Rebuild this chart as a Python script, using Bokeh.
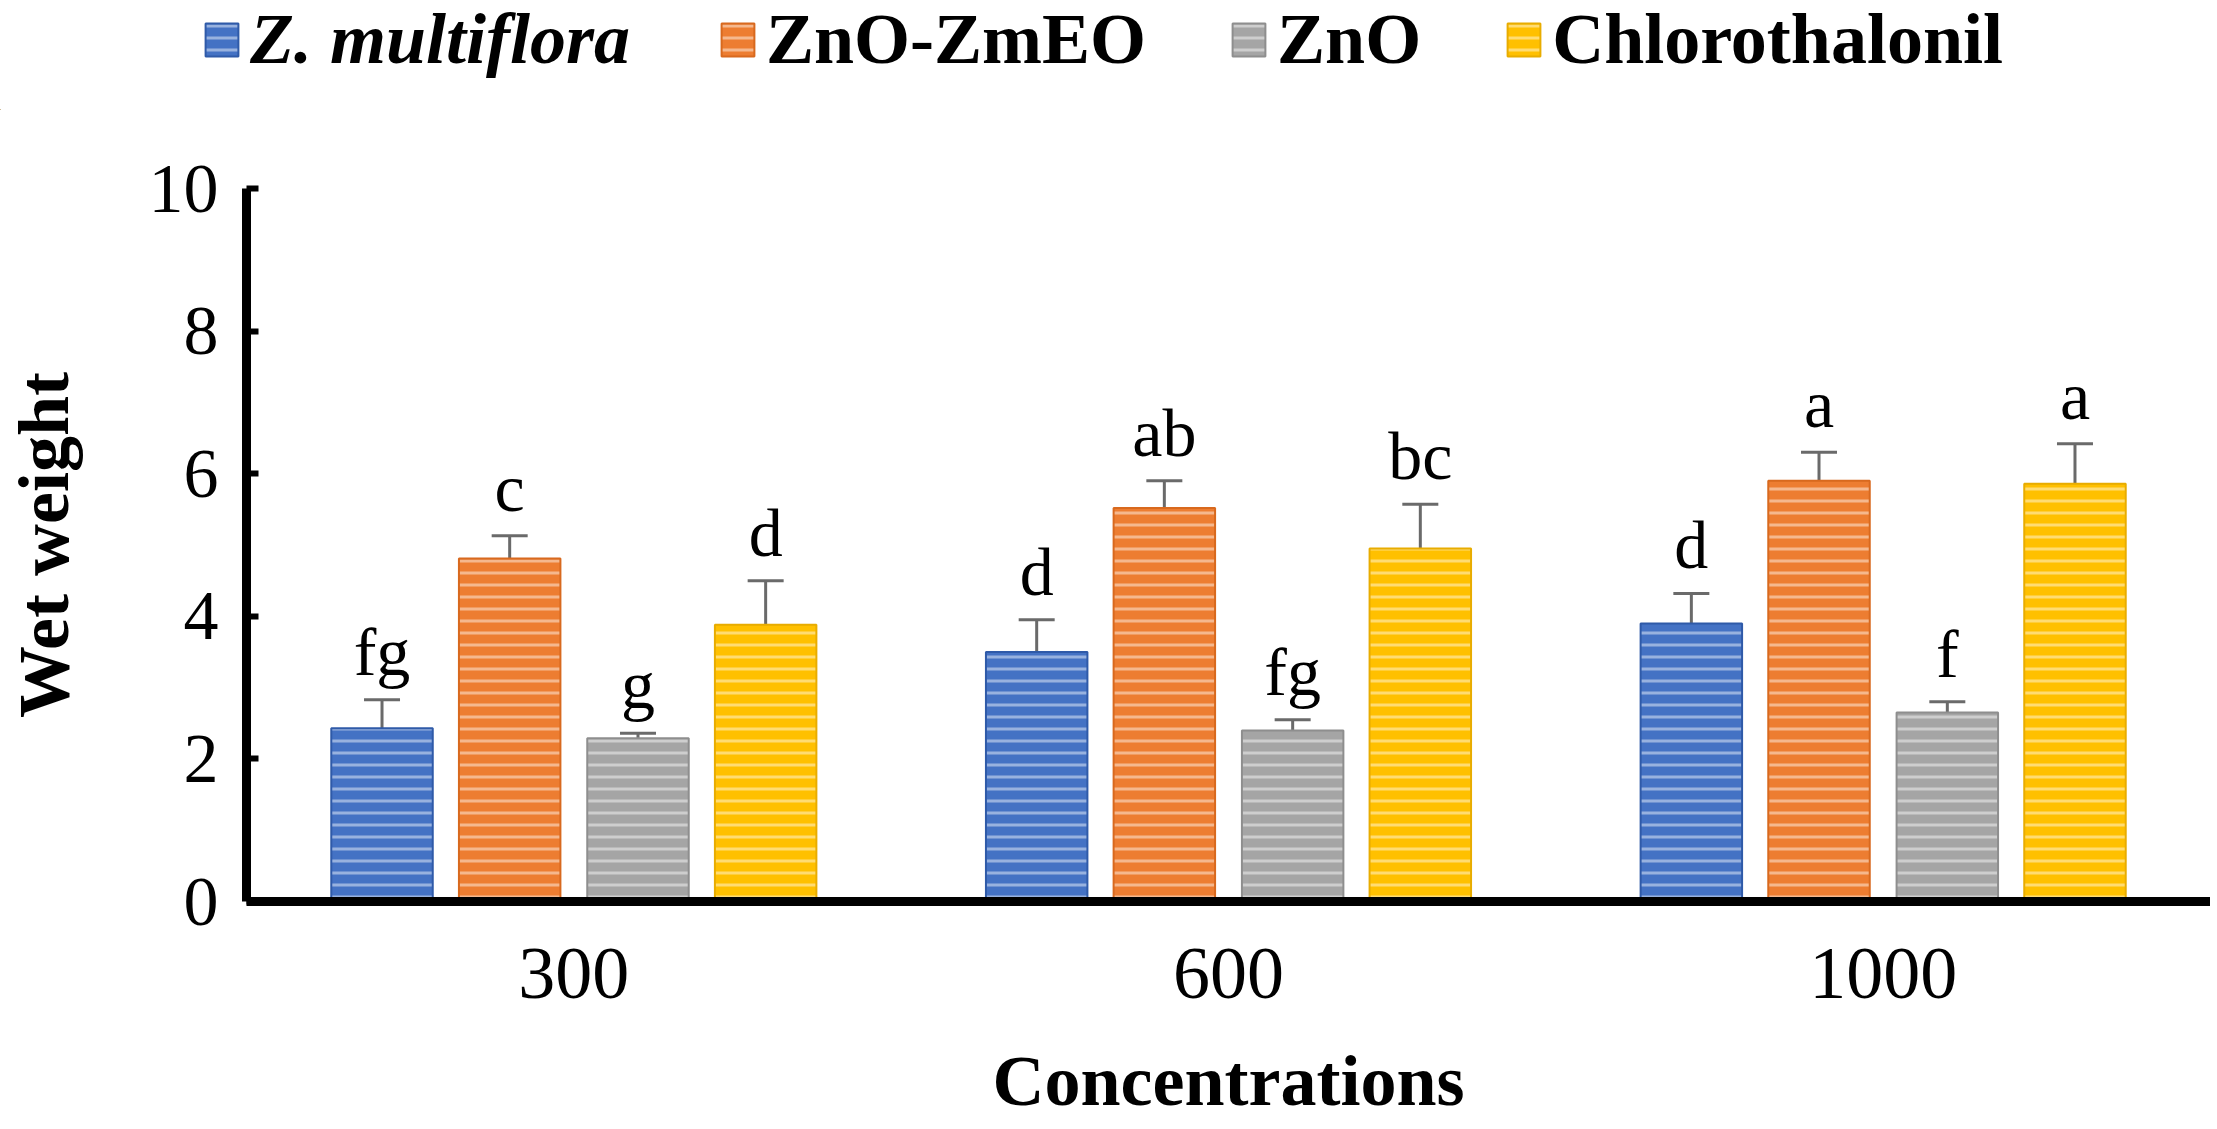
from bokeh.plotting import figure
from bokeh.models import ColumnDataSource, Whisker, TeeHead, Legend, LegendItem, FixedTicker, FactorRange
from bokeh.transform import dodge
from bokeh.core.properties import value
from bokeh.embed import file_html
from bokeh.resources import INLINE

# ---- data ----
concentrations = ["300", "600", "1000"]
series_names = ["Z. multiflora", "ZnO-ZmEO", "ZnO", "Chlorothalonil"]
zm_mean = [2.43, 3.50, 3.90]
zm_err = [0.40, 0.45, 0.42]
zm_letters = ["fg", "d", "d"]
znozm_mean = [4.81, 5.52, 5.90]
znozm_err = [0.32, 0.38, 0.40]
znozm_letters = ["c", "ab", "a"]
zno_mean = [2.29, 2.40, 2.65]
zno_err = [0.07, 0.15, 0.15]
zno_letters = ["g", "fg", "f"]
chl_mean = [3.88, 4.95, 5.86]
chl_err = [0.62, 0.62, 0.56]
chl_letters = ["d", "bc", "a"]
y_ticks = [0, 2, 4, 6, 8, 10]

colors = ["#4472C4", "#ED7D31", "#A5A5A5", "#FFC000"]
edges = ["#2F5AA8", "#D8691E", "#8E8E8E", "#E8AC00"]
offsets = [-0.293, -0.098, 0.098, 0.293]

FONT = "Liberation Serif"
W = 2210
LEG_H = 110
MAIN_H = 1015

bar_style = [dict(fill_color=colors[i], line_color=edges[i], line_width=2,
                  hatch_pattern="horizontal_line", hatch_color="white",
                  hatch_alpha=0.45, hatch_scale=12, hatch_weight=3) for i in range(4)]

p = figure(x_range=FactorRange(*concentrations), y_range=(0, 10),
           width=W, height=MAIN_H, output_backend="svg", toolbar_location=None,
           min_border_left=244, min_border_right=0, min_border_top=188 - LEG_H,
           min_border_bottom=224)
p.outline_line_color = None
p.xgrid.grid_line_color = None
p.ygrid.grid_line_color = None

all_means = [zm_mean, znozm_mean, zno_mean, chl_mean]
all_errs = [zm_err, znozm_err, zno_err, chl_err]
all_letters = [zm_letters, znozm_letters, zno_letters, chl_letters]

for i in range(4):
    m = all_means[i]
    e = all_errs[i]
    src = ColumnDataSource(dict(
        conc=concentrations, top=m,
        upper=[a + b for a, b in zip(m, e)],
        lower=[a - b for a, b in zip(m, e)],
        letter=all_letters[i],
    ))
    xs = dodge("conc", offsets[i], range=p.x_range)
    p.vbar(x=xs, top="top", width=0.155, source=src, **bar_style[i])
    w = Whisker(source=src, base=xs, upper="upper", lower="lower",
                line_color="#6a6a6a", line_width=3,
                upper_head=TeeHead(size=36, line_color="#6a6a6a", line_width=3),
                lower_head=TeeHead(size=36, line_color="#6a6a6a", line_width=3))
    p.add_layout(w)
    p.text(x=xs, y="upper", text="letter", source=src,
           text_align="center", text_baseline="alphabetic", y_offset=-48,
           text_font=value(FONT), text_font_size="68px", text_color="black")

# axes
p.yaxis.ticker = FixedTicker(ticks=y_ticks)
p.yaxis.axis_line_width = 9
p.yaxis.axis_line_color = "black"
p.yaxis.major_tick_in = 12
p.yaxis.major_tick_out = 0
p.yaxis.major_tick_line_width = 6
p.yaxis.major_tick_line_color = "black"
p.yaxis.minor_tick_line_color = None
p.yaxis.major_label_text_font = FONT
p.yaxis.major_label_text_font_size = "70px"
p.yaxis.major_label_text_color = "black"
p.yaxis.major_label_standoff = 28
p.yaxis.axis_label = "Wet weight"
p.yaxis.axis_label_text_font = FONT
p.yaxis.axis_label_text_font_size = "72px"
p.yaxis.axis_label_text_font_style = "bold"
p.yaxis.axis_label_text_color = "black"
p.yaxis.axis_label_standoff = 62

p.xaxis.axis_line_width = 9
p.xaxis.axis_line_color = "black"
p.xaxis.major_tick_line_color = None
p.xaxis.minor_tick_line_color = None
p.xaxis.major_label_text_font = FONT
p.xaxis.major_label_text_font_size = "74px"
p.xaxis.major_label_text_color = "black"
p.xaxis.major_label_standoff = 41
p.xaxis.axis_label = "Concentrations"
p.xaxis.axis_label_text_font = FONT
p.xaxis.axis_label_text_font_size = "72px"
p.xaxis.axis_label_text_font_style = "bold"
p.xaxis.axis_label_text_color = "black"
p.xaxis.axis_label_standoff = 40

# legend strip above the plot (separate root, so its frame spans the full width)
lf = figure(width=W, height=LEG_H, x_range=(0, 1), y_range=(0, 1),
            output_backend="svg", toolbar_location=None,
            x_axis_location=None, y_axis_location=None,
            min_border=0, min_border_left=0, min_border_right=0,
            min_border_top=0, min_border_bottom=0)
lf.outline_line_color = None
lf.xgrid.visible = False
lf.ygrid.visible = False
# swatch renderers for the legend (kept outside the visible range)
lr = [lf.vbar(x=[-5], top=[-5], width=0.1, **bar_style[i]) for i in range(4)]

common = dict(orientation="horizontal", label_text_font=FONT, label_text_font_size="72px",
              label_text_color="black", glyph_width=41, glyph_height=41, label_standoff=8,
              padding=0, margin=0, border_line_color=None, background_fill_alpha=0,
              spacing=82)
leg1 = Legend(items=[LegendItem(label=series_names[0], renderers=[lr[0]])],
              location=(201, 29), label_text_font_style="bold italic", **common)
leg2 = Legend(items=[LegendItem(label=series_names[k], renderers=[lr[k]]) for k in range(1, 4)],
              location=(717, 29), label_text_font_style="bold", **common)
lf.add_layout(leg1)
lf.add_layout(leg2)

open("out.html", "w").write(file_html([lf, p], INLINE))
